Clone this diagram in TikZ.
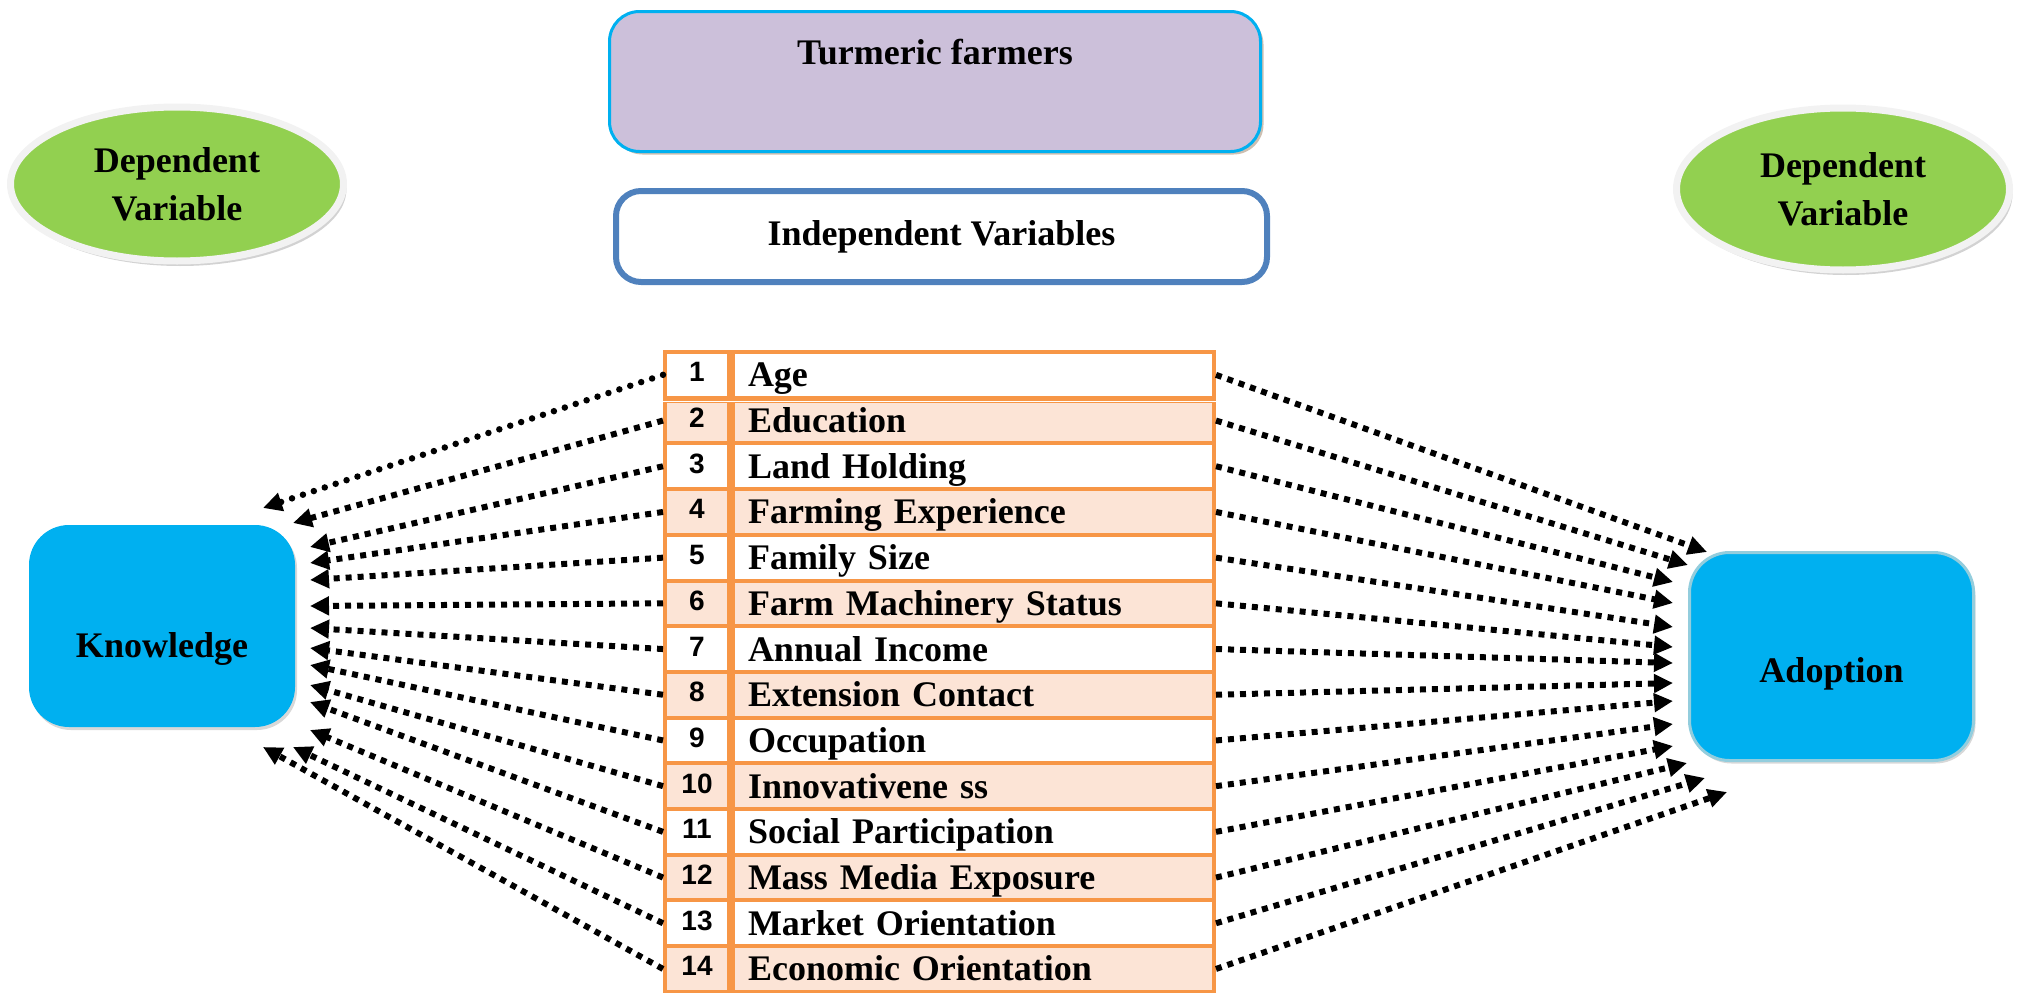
\documentclass[tikz,border=0pt]{standalone}
\usepackage{fontspec}
\setmainfont{Liberation Serif}
\newfontfamily\numfont{Liberation Sans}
\usepackage{xcolor}
\usetikzlibrary{arrows.meta,shapes.geometric,shadows}

\definecolor{leafgreen}{HTML}{92D050}
\definecolor{skyblue}{HTML}{00B0F0}
\definecolor{lilac}{HTML}{CCC0DA}
\definecolor{steel}{HTML}{4F81BD}
\definecolor{tabline}{HTML}{F79646}
\definecolor{peach}{HTML}{FCE4D6}
\definecolor{paleblue}{HTML}{93CDDD}
\definecolor{rim}{HTML}{F2F2F2}

\tikzset{
  bigbf/.style={font=\fontsize{36}{48}\selectfont\bfseries},
  depvar/.style={ellipse,fill=leafgreen,draw=rim,line width=7pt,inner sep=0pt,
    minimum width=333pt,align=center,bigbf,
    drop shadow={shadow xshift=3pt,shadow yshift=-5pt,fill=gray!70}},
  factor/.style={rounded corners=40pt,fill=skyblue,inner sep=0pt,bigbf,
    drop shadow={shadow xshift=2pt,shadow yshift=-3pt,fill=gray!60}},
  numcell/.style={draw=tabline,line width=4pt,minimum width=64pt,minimum height=45.7pt,
    inner sep=0pt,text height=20pt,text depth=6pt,font=\numfont\bfseries\fontsize{28}{30}\selectfont},
  varcell/.style={draw=tabline,line width=4pt,minimum width=481pt,minimum height=45.7pt,
    text width=451pt,inner xsep=15pt,inner ysep=0pt,text height=28pt,text depth=4pt,
    align=left,bigbf},
  link/.style={line width=6pt,dash pattern=on 6pt off 6pt,-{Triangle[length=19pt,width=18pt]}},
  rounddots/.style={line width=6.5pt,line cap=round,dash pattern=on 0pt off 11.5pt},
}

\begin{document}
\begin{tikzpicture}[x=1pt,y=-1pt]
\useasboundingbox (0,0) rectangle (2022,993);

\node[depvar,minimum height=154pt] (depL) at (177,184) {Dependent\\Variable};
\node[depvar,minimum height=162pt] (depR) at (1843,189) {Dependent\\Variable};

\node[draw=skyblue,fill=lilac,line width=3pt,rounded corners=30pt,minimum width=651pt,
  minimum height=140pt,text height=25pt,text depth=60pt,bigbf,
  drop shadow={shadow xshift=3pt,shadow yshift=-3pt,fill=brown!45!gray}]
  (farmers) at (935,81.5) {Turmeric farmers};
\node[draw=steel,fill=white,line width=6pt,rounded corners=25pt,minimum width=651pt,
  minimum height=91pt,bigbf] (indep) at (941.5,236.5) {Independent Variables};

\node[factor,minimum width=266pt,minimum height=202pt,text height=64pt,text depth=2pt]
  (know) at (162,626) {Knowledge};
\node[factor,draw=paleblue,line width=3pt,minimum width=284pt,minimum height=208pt,
  text height=53pt,text depth=2pt] (adopt) at (1831.5,656.5) {Adoption};

% table of variables
\foreach \i/\txt/\bg in {1/Age/white,2/Education/peach,3/Land Holding/white,
    4/Farming Experience/peach,5/Family Size/white,6/Farm Machinery Status/peach,
    7/Annual Income/white,8/Extension Contact/peach,9/Occupation/white,
    10/Innovativene ss/peach,11/Social Participation/white,12/Mass Media Exposure/peach,
    13/Market Orientation/white,14/Economic Orientation/peach}{
  \node[numcell,fill=\bg] (n\i) at (697,{374.85+45.7*(\i-1)}) {\i};
  \node[varcell,fill=\bg,anchor=west] (v\i) at (n\i.east) {\txt};
}
\draw[tabline,line width=7pt] (n1.south west) -- (v1.south east);
\draw[white,line width=1.2pt] ([yshift=-2pt]n1.south west) -- ([yshift=-2pt]v1.south east);

% arrow tips beside the two boxes
\foreach \i/\x/\y in {1/263/508,2/293/523,3/310/547,4/310/563,5/310/580,6/310/606,
    7/310/628,8/310/648,9/310/665,10/310/685,11/310/702,12/310/730,13/293/747,14/263/747}
  \coordinate (kt\i) at (\x,\y);
\foreach \i/\x/\y in {1/1707/552,2/1688/565,3/1673/582,4/1673/603,5/1673/627,6/1673/647,
    7/1673/663,8/1673/683,9/1673/701,10/1673/724,11/1673/746,12/1687/763,13/1705/778,14/1727/792}
  \coordinate (at\i) at (\x,\y);

\draw[link,rounddots] (n1.west) -- (kt1);
\foreach \i in {2,...,14}
  \draw[link] (n\i.west) -- (kt\i);
\foreach \i in {1,...,14}
  \draw[link] (v\i.east) -- (at\i);
\end{tikzpicture}
\end{document}
